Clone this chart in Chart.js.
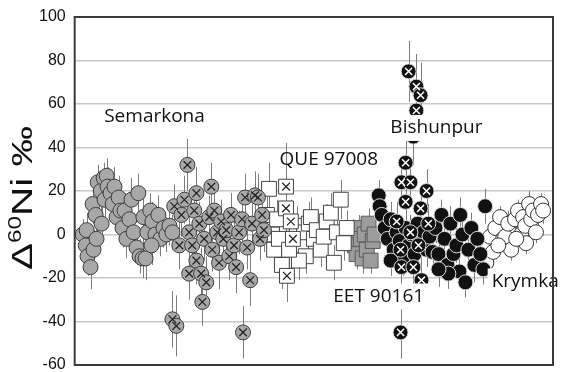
<!DOCTYPE html>
<html>
<head>
<meta charset="utf-8">
<script src="https://cdn.jsdelivr.net/npm/chart.js@4.4.1/dist/chart.umd.min.js"></script>
<style>
  html, body { margin: 0; padding: 0; background: #fff; }
  #wrap { width: 564px; height: 372px; }
</style>
</head>
<body>
<div id="wrap"><canvas id="niChart"></canvas></div>
<script>
// Valores: x = numero da analise, y = Delta60Ni (‰), err = barra de erro
const yTicks = [100, 80, 60, 40, 20, 0, -20, -40, -60];

// Semarkona (circulos cinza)
const semX = [2.7,3.7,4.3,5.3,4,6,7,6.3,7.3,7.7,8.7,9.7,10.7,9,10,11,12,12.7,13.3,14,14.7,15.3,16,16.7,17.3,18.3,19,19.7,20.7,21.3,21.7,22.7,23.7,24.3,23,25.3,26,27,28,28.7,29.7,30.7,31.7,32.7,25.7];
const semY = [0,-5,-10,-15,2,14,9,-7,-2,24,20,26,27,5,16,22,19,14,22,8,17,11,3,11,-2,7,16,1,-6,19,-10,-11,-11,1,8,11,6,0,9,-2,3,0,4,1,-5];
const semErr = [7,8,9,10,8,9,8,9,8,8,9,7,8,9,8,9,7,8,9,8,10,8,9,8,9,8,10,9,8,9,8,9,10,8,9,8,9,8,9,8,9,8,9,8,9];

// Semarkona (circulos cinza com X)
const semCrossX = [32.7,34,33.3,35,35.7,36.7,37.7,38.3,38.3,39.3,40,40.7,40.7,41.7,42.3,42.7,43.3,44,45,45.7,46,46.7,47.7,48.3,49,49.7,50.7,51.7,52.3,53.3,54,55,56,56.3,57,57.7,58.7,59.3,60.3,61.3,62,62.7,63.3];
const semCrossY = [-39,-42,13,-5,9,16,32,-18,1,-5,11,19,-12,5,-18,-31,-2,-22,8,22,-7,11,1,-13,6,-2,2,-10,9,-5,-15,1,7,-45,17,-6,-21,5,18,17,-2,9,2];
const semCrossErr = [13,14,10,11,10,11,12,12,10,11,10,12,11,10,12,11,10,12,10,11,10,11,10,12,10,11,10,11,10,11,12,10,11,12,11,10,12,10,11,11,10,10,10];

// QUE 97008 (quadrados brancos)
const queX = [64.3,65,66,66.7,67.7,68.3,69.3,73.3,74.3,75.7,76.7,77.3,78.3,79,80,81,82.3,83.3,84.3,85.7,86.7,87.7,89,90,91,75,71.7];
const queY = [9,21,0,-7,7,-2,-14,-2,4,-5,1,-10,5,8,-2,2,-7,-1,6,10,-13,1,16,-4,3,-12,-7];
const queErr = [10,12,9,10,9,10,11,8,9,8,9,8,10,9,8,9,8,9,8,9,8,8,9,8,8,9,10];
const queCrossX = [70.7,70.7,72.3,71,73];
const queCrossY = [22,12,6,-19,-2];
const queCrossErr = [20,11,10,12,10];

// EET 90161 (quadrados cinza)
const eetX = [93,93.7,94.3,95,95.7,96.3,97,97.7,98.3,99,99.7,100.3];
const eetY = [1,-5,-9,3,-2,-11,0,-7,5,-12,-3,0];
const eetErr = [6,6,7,6,6,7,6,6,7,6,6,6];

// Bishunpur (circulos pretos)
const bisX = [101.7,102,102.7,103.7,104.7,105.7,106.7,107.7,108.7,109.7,110.7,111.7,112.7,113.7,114.7,115.7,116.7,117.7,118.7,119.7,120.7,121.7,122.7,123.7,124.7,125.7,126.7,127.7,128.7,129.7,130.7,131.7,132.7,133.7,134.7,135.7,136.7,137.3,125,129,105.7,121.7];
const bisY = [18,13,9,3,-2,7,-7,1,-3,-11,3,-5,0,-9,5,-4,1,-7,-1,-8,3,-9,9,-2,-14,5,-9,-5,-17,0,-22,-7,3,-14,-2,-9,-16,13,-18,9,-12,-16];
const bisErr = [7,8,7,8,7,8,7,8,7,8,7,8,7,8,7,8,7,8,7,8,7,8,7,8,7,8,7,8,7,8,7,8,7,8,7,8,7,8,7,8,7,8];
const bisCrossX = [111.7,114.3,115.7,114.3,113.3,110.7,109.3,112.3,117.7,110.7,115.7,109,109.3,113.3,116,109,107.7,112.3,115,118.3];
const bisCrossY = [75,68,64,57,45,33,24,24,20,15,12,-7,-15,-15,-21,-45,6,1,-5,5];
const bisCrossErr = [14,15,15,14,13,12,12,11,10,10,9,10,11,10,9,12,9,8,9,9];

// Krymka (circulos brancos)
const kryX = [137.7,139,140,140.7,142.3,143.3,144,145,146,147.3,148.3,149.3,150,150.7,151,152,152.7,153.3,154.3,155,156,156.7,141.7,147.7];
const kryY = [-13,-1,-8,3,8,-2,-1,5,-7,7,11,0,8,4,-4,14,7,11,1,9,14,11,-5,-2];
const kryErr = [5,6,5,6,5,6,5,6,5,6,5,6,5,6,5,6,5,6,5,6,5,6,5,6];

// Rotulos dos meteoritos
const labelNames = ['Semarkona', 'QUE 97008', 'Bishunpur', 'EET 90161', 'Krymka'];
const labelX = [26.7, 85, 121, 101.7, 150.7];
const labelY = [54, 34.5, 49, -28.5, -21.6];
const labelBox = [false, false, true, true, true];

function pts(xs, ys) {
    return xs.map((x, i) => ({ x: x, y: ys[i] }));
}

// Barras de erro verticais
const errorBars = {
    id: 'errorBars',
    beforeDatasetsDraw(chart) {
        const ctx = chart.ctx;
        const xs = chart.scales.x, ys = chart.scales.y;
        const a = chart.chartArea;
        ctx.save();
        ctx.beginPath();
        ctx.rect(a.left, a.top, a.right - a.left, a.bottom - a.top);
        ctx.clip();
        ctx.strokeStyle = '#7c7c7c';
        ctx.lineWidth = 1;
        chart.data.datasets.forEach(ds => {
            if (!ds.err) return;
            ds.data.forEach((p, i) => {
                const px = Math.round(xs.getPixelForValue(p.x)) + 0.5;
                ctx.beginPath();
                ctx.moveTo(px, ys.getPixelForValue(p.y - ds.err[i]));
                ctx.lineTo(px, ys.getPixelForValue(p.y + ds.err[i]));
                ctx.stroke();
            });
        });
        ctx.restore();
    }
};

// Moldura, rotulos e titulo do eixo y
const decorations = {
    id: 'decorations',
    afterDatasetsDraw(chart) {
        const ctx = chart.ctx;
        const xs = chart.scales.x, ys = chart.scales.y;
        ctx.save();
        ctx.font = '19px "Open Sans"';
        ctx.textAlign = 'center';
        ctx.textBaseline = 'middle';
        labelNames.forEach((t, i) => {
            const cx = xs.getPixelForValue(labelX[i]);
            const cy = ys.getPixelForValue(labelY[i]);
            const w = ctx.measureText(t).width;
            if (labelBox[i]) {
                ctx.fillStyle = '#fff';
                ctx.fillRect(cx - w / 2 - 4, cy - 13, w + 8, 26);
            }
            ctx.fillStyle = '#111';
            ctx.fillText(t, cx, cy);
        });
        const a = chart.chartArea;
        ctx.strokeStyle = '#3a3a3a';
        ctx.lineWidth = 2;
        ctx.strokeRect(a.left, a.top, a.right - a.left, a.bottom - a.top);
        ctx.restore();
    },
    afterDraw(chart) {
        const ctx = chart.ctx;
        ctx.save();
        ctx.translate(32, 270);
        ctx.rotate(-Math.PI / 2);
        ctx.scale(1.35, 1);
        ctx.fillStyle = '#111';
        ctx.textBaseline = 'alphabetic';
        ctx.textAlign = 'left';
        ctx.font = '30px "Liberation Sans"';
        ctx.fillText('\u0394', 0, 0);
        let w = ctx.measureText('\u0394').width;
        ctx.font = '18px "Liberation Sans"';
        ctx.fillText('60', w, -11);
        w += ctx.measureText('60').width;
        ctx.font = '30px "Liberation Sans"';
        ctx.fillText('Ni \u2030', w, 0);
        ctx.restore();
    }
};

const ctx = document.getElementById('niChart').getContext('2d');

const niChart = new Chart(ctx, {
    type: 'scatter',
    data: {
        datasets: [
            { label: 'Semarkona', data: pts(semX, semY), err: semErr, order: 12,
              pointStyle: 'circle', pointRadius: 7.5, backgroundColor: '#a8a8a8', borderColor: '#3c3c3c', borderWidth: 1 },
            { label: 'Semarkona X', data: pts(semCrossX, semCrossY), err: semCrossErr, order: 3,
              pointStyle: 'circle', pointRadius: 7.5, backgroundColor: '#a8a8a8', borderColor: '#3c3c3c', borderWidth: 1 },
            { label: 'Semarkona X cross', data: pts(semCrossX, semCrossY), order: 2,
              pointStyle: 'crossRot', pointRadius: 5.5, borderColor: '#222', borderWidth: 1.2 },
            { label: 'QUE 97008', data: pts(queX, queY), err: queErr, order: 6,
              pointStyle: 'rect', pointRadius: 10.5, backgroundColor: '#fff', borderColor: '#444', borderWidth: 1 },
            { label: 'QUE 97008 X', data: pts(queCrossX, queCrossY), err: queCrossErr, order: 5,
              pointStyle: 'rect', pointRadius: 10.5, backgroundColor: '#fff', borderColor: '#444', borderWidth: 1 },
            { label: 'QUE 97008 X cross', data: pts(queCrossX, queCrossY), order: 4,
              pointStyle: 'crossRot', pointRadius: 5.5, borderColor: '#222', borderWidth: 1.2 },
            { label: 'EET 90161', data: pts(eetX, eetY), err: eetErr, order: 11,
              pointStyle: 'rect', pointRadius: 10.5, backgroundColor: '#9c9c9c', borderColor: '#5a5a5a', borderWidth: 1 },
            { label: 'Bishunpur', data: pts(bisX, bisY), err: bisErr, order: 9,
              pointStyle: 'circle', pointRadius: 7.5, backgroundColor: '#111', borderColor: '#ddd', borderWidth: 1 },
            { label: 'Bishunpur X', data: pts(bisCrossX, bisCrossY), err: bisCrossErr, order: 8,
              pointStyle: 'circle', pointRadius: 7.5, backgroundColor: '#111', borderColor: '#ddd', borderWidth: 1 },
            { label: 'Bishunpur X cross', data: pts(bisCrossX, bisCrossY), order: 7,
              pointStyle: 'crossRot', pointRadius: 5, borderColor: '#fff', borderWidth: 1.5 },
            { label: 'Krymka', data: pts(kryX, kryY), err: kryErr, order: 10,
              pointStyle: 'circle', pointRadius: 7.5, backgroundColor: '#fff', borderColor: '#333', borderWidth: 1 }
        ]
    },
    options: {
        responsive: true,
        maintainAspectRatio: false,
        animation: false,
        events: [],
        layout: { autoPadding: false, padding: { left: 30, top: 17, right: 11, bottom: 7 } },
        plugins: {
            legend: { display: false },
            tooltip: { enabled: false }
        },
        scales: {
            x: {
                type: 'linear', min: 0, max: 160, display: false
            },
            y: {
                min: -60, max: 100,
                afterBuildTicks: axis => { axis.ticks = yTicks.map(v => ({ value: v })); },
                // sem reserva extra para o rotulo -60, que fica cortado como no original
                afterFit: axis => { axis.paddingTop = 0; axis.paddingBottom = 0; },
                grid: { color: '#c8c8c8', lineWidth: 1.5, drawTicks: false },
                border: { display: false },
                ticks: {
                    color: '#111', padding: 9,
                    font: { family: '"Liberation Sans", Arial', size: 16 }
                }
            }
        }
    },
    plugins: [errorBars, decorations]
});
</script>
</body>
</html>
